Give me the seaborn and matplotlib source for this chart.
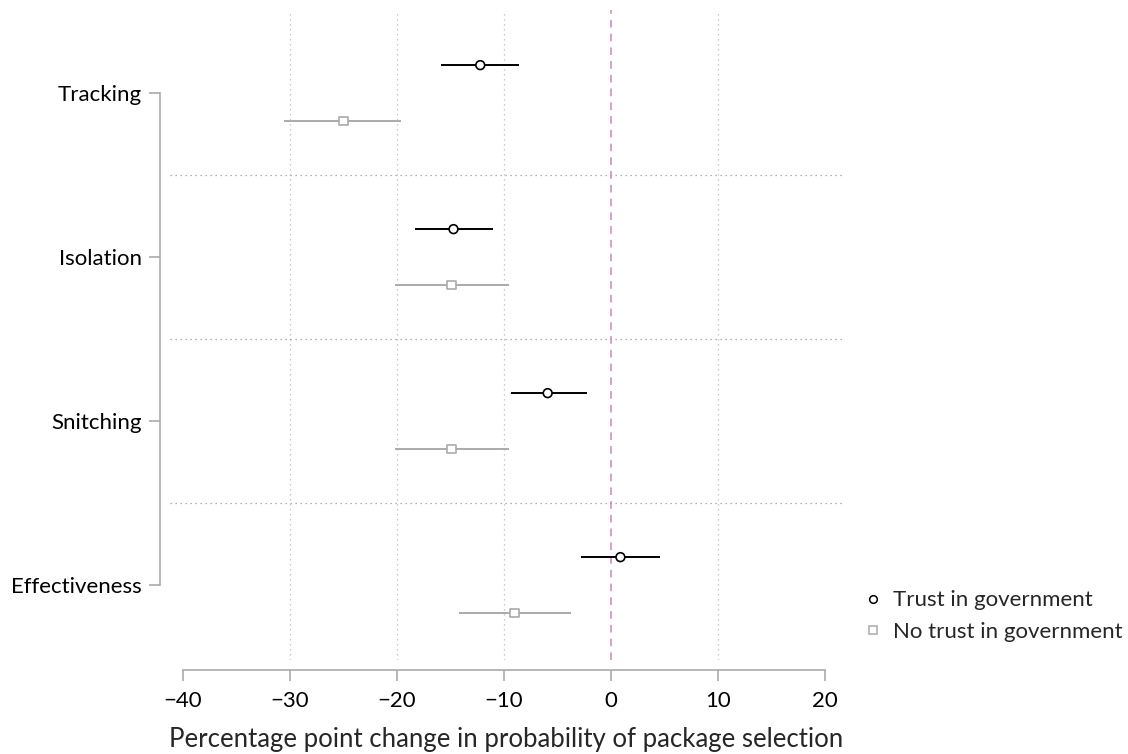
import matplotlib.pyplot as plt
import matplotlib.lines as mlines
import numpy as np
import pandas as pd
import seaborn as sns

# data
attributes = ['Tracking', 'Isolation', 'Snitching', 'Effectiveness']
trust_est = [-12.2, -14.7, -5.9, 0.9]
trust_lo = [-15.9, -18.3, -9.3, -2.8]
trust_hi = [-8.6, -11.0, -2.2, 4.6]
notrust_est = [-25.0, -14.9, -14.9, -9.0]
notrust_lo = [-30.5, -20.2, -20.2, -14.2]
notrust_hi = [-19.6, -9.5, -9.5, -3.7]
x_ticks = [-40, -30, -20, -10, 0, 10, 20]

sns.set_style("white")
plt.rcParams['font.family'] = ['Lato', 'DejaVu Sans']
plt.rcParams['font.size'] = 16

grey = '#aaaaaa'
offset = 0.17

rows = []
for i, a in enumerate(attributes):
    rows.append({'attr': a, 'group': 'Trust in government', 'est': trust_est[i],
                 'lo': trust_lo[i], 'hi': trust_hi[i], 'y': i - offset})
    rows.append({'attr': a, 'group': 'No trust in government', 'est': notrust_est[i],
                 'lo': notrust_lo[i], 'hi': notrust_hi[i], 'y': i + offset})
df = pd.DataFrame(rows)

fig = plt.figure(figsize=(11.28, 7.54), dpi=100)
ax = fig.add_axes([0.1507, 0.1247, 0.5966, 0.862])

colors = {'Trust in government': 'black', 'No trust in government': grey}
markers = {'Trust in government': 'o', 'No trust in government': 's'}

# grid lines
for xv in [-30, -20, -10, 10]:
    ax.axvline(xv, color='#bbbbbb', linestyle=(0, (1, 3)), linewidth=0.9, zorder=0)
for yv in [0.5, 1.5, 2.5]:
    ax.axhline(yv, color='#999999', linestyle=(0, (1, 3)), linewidth=0.9, zorder=0)
ax.axvline(0, color='#cc88bb', linestyle=(0, (5, 4)), linewidth=1.1, zorder=0)

# confidence intervals
for g, sub in df.groupby('group'):
    ax.hlines(sub['y'], sub['lo'], sub['hi'], color=colors[g], linewidth=1.4, zorder=2)

sns.scatterplot(data=df, x='est', y='y', hue='group', style='group',
                palette=colors, markers=markers, s=40,
                linewidth=1.2, legend=False, ax=ax, zorder=3)
# open markers: edge colour follows hue
coll = ax.collections[-1]
coll.set_edgecolors([colors[g] for g in df['group']])
coll.set_facecolors('white')

ax.set_xlim(-41.2, 21.7)
ax.set_ylim(3.457, -0.506)
ax.set_yticks(range(len(attributes)))
ax.set_yticklabels(attributes)
ax.set_xticks(x_ticks)
ax.set_xticklabels([f'\u2212{abs(v)}' if v < 0 else str(v) for v in x_ticks])
ax.set_xlabel('Percentage point change in probability of package selection',
              fontsize=18.5, labelpad=12)
ax.set_ylabel('')

for side in ['top', 'right']:
    ax.spines[side].set_visible(False)
ax.spines['left'].set_position(('outward', 7))
ax.spines['left'].set_bounds(0, 3)
ax.spines['bottom'].set_position(('outward', 7))
ax.spines['bottom'].set_bounds(-40, 20)
for side in ['left', 'bottom']:
    ax.spines[side].set_color(grey)
    ax.spines[side].set_linewidth(1.2)
ax.tick_params(axis='both', bottom=True, left=True, colors=grey, labelcolor='black',
               length=8, width=1.2, labelsize=16, direction='out')
ax.tick_params(axis='y', pad=5)
ax.tick_params(axis='x', pad=7)

handles = [
    mlines.Line2D([], [], color='black', marker='o', markerfacecolor='white',
                  linestyle='none', markersize=5.5, markeredgewidth=1.1,
                  label='Trust in government'),
    mlines.Line2D([], [], color=grey, marker='s', markerfacecolor='white',
                  linestyle='none', markersize=5.5, markeredgewidth=1.1,
                  label='No trust in government'),
]
fig.legend(handles=handles, loc='center left', bbox_to_anchor=(0.7465, 0.183),
           frameon=False, fontsize=16, handletextpad=0.4, labelspacing=0.5,
           handlelength=1.0)

plt.savefig('out.png', dpi=100)
plt.close()
